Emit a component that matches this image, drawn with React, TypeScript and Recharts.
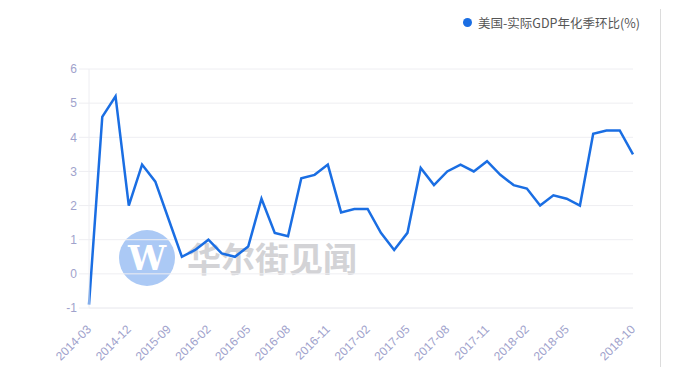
import React from "react";
import { LineChart, Line, XAxis, YAxis, CartesianGrid } from "recharts";

const categories = [
  "2014-03", "2014-06", "2014-09", "2014-12", "2015-03", "2015-06", "2015-09",
  "2015-11", "2016-01", "2016-02", "2016-03", "2016-04", "2016-05", "2016-06",
  "2016-07", "2016-08", "2016-09", "2016-10", "2016-11", "2016-12", "2017-01",
  "2017-02", "2017-03", "2017-04", "2017-05", "2017-06", "2017-07", "2017-08",
  "2017-09", "2017-10", "2017-11", "2017-12", "2018-01", "2018-02", "2018-03",
  "2018-04", "2018-05", "2018-06", "2018-07", "2018-08", "2018-09", "2018-10",
];

const gdpValues = [
  -0.9, 4.6, 5.2, 2.0, 3.2, 2.7, 1.6, 0.5, 0.7, 1.0, 0.6, 0.5, 0.8, 2.2,
  1.2, 1.1, 2.8, 2.9, 3.2, 1.8, 1.9, 1.9, 1.2, 0.7, 1.2, 3.1, 2.6, 3.0,
  3.2, 3.0, 3.3, 2.9, 2.6, 2.5, 2.0, 2.3, 2.2, 2.0, 4.1, 4.2, 4.2, 3.5,
];

const xTicks = [
  "2014-03", "2014-12", "2015-09", "2016-02", "2016-05", "2016-08", "2016-11",
  "2017-02", "2017-05", "2017-08", "2017-11", "2018-02", "2018-05", "2018-10",
];

const yTicks = [-1, 0, 1, 2, 3, 4, 5, 6];

const seriesName = "美国-实际GDP年化季环比(%)";
const watermarkText = "华尔街见闻";

const data = categories.map((c, i) => ({ date: c, value: gdpValues[i] }));

const LINE_COLOR = "#1a6ee3";
const TICK_COLOR = "#a0a2cc";
const GRID_COLOR = "#eeeef2";

const XTick = (props: any) => {
  const { x, y, payload } = props;
  const ax = x + 3;
  const ay = y + 14;
  return (
    <text
      x={ax}
      y={ay}
      transform={`rotate(-45, ${ax}, ${ay})`}
      textAnchor="end"
      fill={TICK_COLOR}
      fontSize={12}
      fontFamily="Liberation Sans, Arial, sans-serif"
    >
      {payload.value}
    </text>
  );
};

export default function App() {
  return (
    <div
      style={{
        position: "absolute",
        left: 0,
        top: 0,
        width: 673,
        height: 367,
        background: "#fff",
        overflow: "hidden",
      }}
    >
      <div
        style={{
          position: "absolute",
          left: 660,
          top: 9,
          width: 1,
          height: 358,
          background: "#dcdcdc",
        }}
      />
      <div
        style={{
          position: "absolute",
          left: 119,
          top: 230,
          width: 56,
          height: 56,
          borderRadius: "50%",
          background: "#abc9f5",
          color: "#fff",
          fontFamily: "'DejaVu Serif', serif",
          fontWeight: 700,
          fontSize: 34,
          lineHeight: "56px",
          textAlign: "center",
        }}
      >
        W
      </div>
      <div
        style={{
          position: "absolute",
          left: 187,
          top: 236,
          fontFamily: "'Noto Sans CJK SC', sans-serif",
          fontWeight: 700,
          fontSize: 34,
          lineHeight: "44px",
          color: "#d3d3d6",
          whiteSpace: "nowrap",
        }}
      >
        {watermarkText}
      </div>
      <div
        style={{
          position: "absolute",
          left: 463,
          top: 12,
          display: "flex",
          alignItems: "center",
          height: 20,
          fontFamily: "'Noto Sans CJK SC', sans-serif",
          fontSize: 12.5,
          color: "#555",
          whiteSpace: "nowrap",
        }}
      >
        <span
          style={{
            display: "inline-block",
            width: 9,
            height: 9,
            borderRadius: "50%",
            background: LINE_COLOR,
            marginRight: 6,
          }}
        />
        <span>{seriesName}</span>
      </div>
      <div style={{ position: "absolute", left: 0, top: 0 }}>
        <LineChart
          width={673}
          height={367}
          data={data}
          margin={{ top: 69, right: 40, bottom: 9, left: 0 }}
        >
          <CartesianGrid vertical={false} stroke={GRID_COLOR} />
          <XAxis
            dataKey="date"
            ticks={xTicks}
            interval={0}
            height={50}
            tick={<XTick />}
            tickLine={false}
            axisLine={{ stroke: GRID_COLOR }}
          />
          <YAxis
            domain={[-1, 6]}
            ticks={yTicks}
            width={89}
            tickSize={10}
            tickMargin={2}
            tickLine={{ stroke: GRID_COLOR }}
            axisLine={{ stroke: GRID_COLOR }}
            tick={{ fill: TICK_COLOR, fontSize: 12, fontFamily: "Liberation Sans, Arial, sans-serif" }}
            interval={0}
          />
          <Line
            type="linear"
            dataKey="value"
            name={seriesName}
            stroke={LINE_COLOR}
            strokeWidth={2.5}
            dot={false}
            activeDot={false}
            isAnimationActive={false}
          />
        </LineChart>
      </div>
    </div>
  );
}
